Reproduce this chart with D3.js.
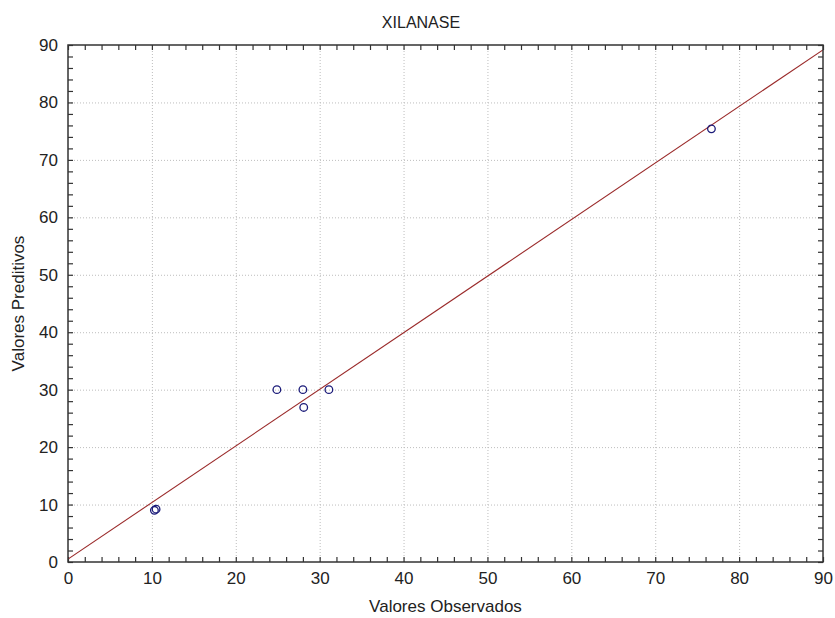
<!DOCTYPE html>
<html>
<head>
<meta charset="utf-8">
<script src="https://cdn.jsdelivr.net/npm/d3@7"></script>
<style>
  html, body { margin: 0; padding: 0; background: #fff; }
  svg { display: block; font-family: "Liberation Sans", Arial, sans-serif; }
</style>
</head>
<body>
<svg id="chart" width="835" height="618"></svg>
<script>
// Observed vs predicted xylanase activity
const observed  = [10.3, 10.5, 24.9, 28.0, 28.1, 31.1, 76.7];
const predicted = [9.0, 9.2, 30.0, 30.0, 26.9, 30.0, 75.4];

// Fitted line: predicted = intercept + slope * observed
const fitIntercept = 0.5;
const fitSlope = 0.985;

const majorTicks = [0, 10, 20, 30, 40, 50, 60, 70, 80, 90];
const minorTicks = d3.range(0, 91, 2);

const titleText = "XILANASE";
const xLabelText = "Valores Observados";
const yLabelText = "Valores Preditivos";

const margin = { left: 68, right: 12, top: 45, bottom: 56 };
const W = 835, H = 618;

const svg = d3.select("#chart");
const x = d3.scaleLinear().domain([0, 90]).range([margin.left, W - margin.right]);
const y = d3.scaleLinear().domain([0, 90]).range([H - margin.bottom, margin.top]);

const x0 = x(0), x1 = x(90), y0 = y(0), y1 = y(90);

// Dotted grid at major ticks
const grid = svg.append("g").attr("stroke", "#bdbdbd").attr("stroke-width", 1)
  .attr("stroke-dasharray", "1,2");
grid.selectAll("line.gx").data(majorTicks.slice(1, -1)).join("line")
  .attr("x1", d => x(d) + 0.5).attr("x2", d => x(d) + 0.5)
  .attr("y1", y1).attr("y2", y0);
grid.selectAll("line.gy").data(majorTicks.slice(1, -1)).join("line")
  .attr("y1", d => y(d) + 0.5).attr("y2", d => y(d) + 0.5)
  .attr("x1", x0).attr("x2", x1);

// Inward-pointing ticks on all four sides
function tickAxis(axisGen, transform) {
  const g = svg.append("g").attr("transform", transform).call(axisGen);
  g.select(".domain").remove();
  g.selectAll("line").attr("stroke", "#333").attr("stroke-width", 1.2);
  return g;
}
const inLen = -5;
tickAxis(d3.axisBottom(x).tickValues(minorTicks).tickSize(inLen).tickFormat(""), `translate(0,${y0})`);
tickAxis(d3.axisTop(x).tickValues(minorTicks).tickSize(inLen).tickFormat(""), `translate(0,${y1})`);
tickAxis(d3.axisLeft(y).tickValues(minorTicks).tickSize(inLen).tickFormat(""), `translate(${x0},0)`);
tickAxis(d3.axisRight(y).tickValues(minorTicks).tickSize(inLen).tickFormat(""), `translate(${x1},0)`);

// Tick labels
const xl = svg.append("g").attr("transform", `translate(0,${y0})`)
  .call(d3.axisBottom(x).tickValues(majorTicks).tickSize(0).tickPadding(10).tickFormat(d3.format("d")));
xl.select(".domain").remove();
xl.selectAll("text").attr("font-size", 17).attr("fill", "#222")
  .attr("font-family", "Liberation Sans, Arial, sans-serif");

const yl = svg.append("g").attr("transform", `translate(${x0},0)`)
  .call(d3.axisLeft(y).tickValues(majorTicks).tickSize(0).tickPadding(10).tickFormat(d3.format("d")));
yl.select(".domain").remove();
yl.selectAll("text").attr("font-size", 17).attr("fill", "#222")
  .attr("font-family", "Liberation Sans, Arial, sans-serif");

// Fitted line, clipped to the plot frame
svg.append("clipPath").attr("id", "plotClip").append("rect")
  .attr("x", x0).attr("y", y1).attr("width", x1 - x0).attr("height", y0 - y1);
svg.append("line")
  .attr("clip-path", "url(#plotClip)")
  .attr("x1", x(0)).attr("y1", y(fitIntercept))
  .attr("x2", x(90)).attr("y2", y(fitIntercept + fitSlope * 90))
  .attr("stroke", "#9a2a2a").attr("stroke-width", 1.1);

// Points
svg.append("g").selectAll("circle").data(observed.map((o, i) => [o, predicted[i]])).join("circle")
  .attr("cx", d => x(d[0])).attr("cy", d => y(d[1])).attr("r", 3.8)
  .attr("fill", "none").attr("stroke", "#1c1c7a").attr("stroke-width", 1.3);

// Frame
svg.append("rect").attr("x", x0).attr("y", y1).attr("width", x1 - x0).attr("height", y0 - y1)
  .attr("fill", "none").attr("stroke", "#333").attr("stroke-width", 1.5);

// Titles
svg.append("text").attr("x", 421).attr("y", 28).attr("text-anchor", "middle")
  .attr("font-size", 16).attr("fill", "#222").text(titleText);
svg.append("text").attr("x", (x0 + x1) / 2).attr("y", 612).attr("text-anchor", "middle")
  .attr("font-size", 17).attr("fill", "#222").text(xLabelText);
svg.append("text").attr("transform", `translate(24,${(y0 + y1) / 2}) rotate(-90)`)
  .attr("text-anchor", "middle").attr("font-size", 17).attr("fill", "#222").text(yLabelText);
</script>
</body>
</html>
